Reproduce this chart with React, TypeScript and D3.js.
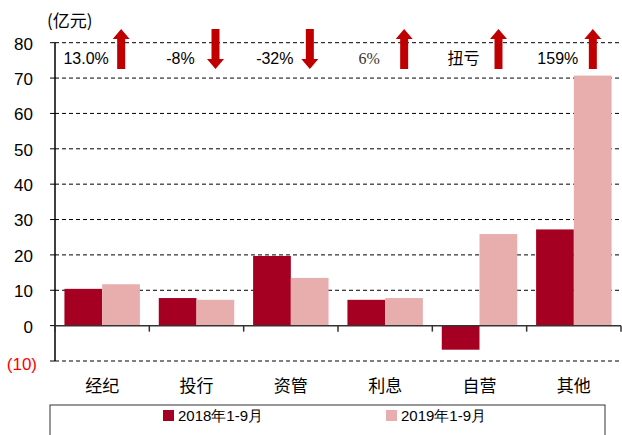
import React from "react";
import * as d3 from "d3";

const categories = ["经纪", "投行", "资管", "利息", "自营", "其他"];
const series2018 = [10.4, 7.8, 19.7, 7.3, -6.8, 27.2];
const series2019 = [11.7, 7.3, 13.5, 7.8, 25.9, 70.7];
const seriesNames = ["2018年1-9月", "2019年1-9月"];
const changeLabels = ["13.0%", "-8%", "-32%", "6%", "扭亏", "159%"];
const changeDirs = ["up", "down", "down", "up", "up", "up"];
const yTicks = [-10, 0, 10, 20, 30, 40, 50, 60, 70, 80];

const W = 622;
const H = 435;
const colors = ["#A50021", "#E8AEAE"];
const arrowColor = "#C00000";
const sans = "'Liberation Sans', Arial, sans-serif";
const cjk = "'Noto Sans CJK SC', sans-serif";

export default function App() {
  const y = d3.scaleLinear().domain([-10, 80]).range([361, 42.7]);
  const x = d3
    .scaleBand<string>()
    .domain(categories)
    .range([55, 621])
    .paddingInner(0.2)
    .paddingOuter(0.1);
  const step = x.step();
  const xs = d3.scaleBand<number>().domain([0, 1]).range([0, x.bandwidth()]);
  const y0 = y(0);

  const arrow = (cx: number, dir: string) => {
    const top = 29,
      bot = 69,
      sw = 4,
      hw = 8.5,
      hh = 10;
    let pts: [number, number][];
    if (dir === "up") {
      pts = [
        [cx, top],
        [cx + hw, top + hh],
        [cx + sw, top + hh],
        [cx + sw, bot],
        [cx - sw, bot],
        [cx - sw, top + hh],
        [cx - hw, top + hh],
      ];
    } else {
      pts = [
        [cx - sw, top],
        [cx + sw, top],
        [cx + sw, bot - hh],
        [cx + hw, bot - hh],
        [cx, bot],
        [cx - hw, bot - hh],
        [cx - sw, bot - hh],
      ];
    }
    return <polygon points={pts.map((p) => p.join(",")).join(" ")} fill={arrowColor} />;
  };

  return (
    <svg
      width={W}
      height={H}
      style={{ position: "absolute", left: 0, top: 0, background: "#fff" }}
    >
      {/* grid lines */}
      {yTicks
        .filter((t) => t !== 0)
        .map((t) => (
          <line
            key={"g" + t}
            x1={55}
            x2={621}
            y1={y(t)}
            y2={y(t)}
            stroke="#000"
            strokeWidth={1}
            strokeDasharray="4,3"
          />
        ))}
      {/* bars */}
      {categories.map((c, i) =>
        [series2018[i], series2019[i]].map((v, s) => (
          <rect
            key={c + s}
            x={(x(c) as number) + (xs(s) as number)}
            y={Math.min(y(v), y0)}
            width={xs.bandwidth()}
            height={Math.abs(y(v) - y0)}
            fill={colors[s]}
          />
        ))
      )}
      {/* y axis */}
      <line x1={55} x2={55} y1={y(80)} y2={y(-10)} stroke="#000" strokeWidth={1.5} />
      {yTicks.map((t) => (
        <g key={"t" + t}>
          <line x1={50} x2={55} y1={y(t)} y2={y(t)} stroke="#000" strokeWidth={1} />
          <text
            x={t < 0 ? 37 : 33}
            y={y(t) + (t < 0 ? 3 : 1)}
            dy="0.35em"
            textAnchor="end"
            fontFamily={sans}
            fontSize={17}
            fill={t < 0 ? "#FF0000" : "#000"}
          >
            {t < 0 ? `(${Math.abs(t)})` : t}
          </text>
        </g>
      ))}
      {/* x axis */}
      <line x1={55} x2={621} y1={y0} y2={y0} stroke="#333" strokeWidth={1.5} />
      {d3.range(categories.length + 1).map((k) => (
        <line
          key={"xt" + k}
          x1={55 + k * step}
          x2={55 + k * step}
          y1={y0}
          y2={y0 + 6}
          stroke="#333"
          strokeWidth={1.5}
        />
      ))}
      {categories.map((c) => (
        <text
          key={"c" + c}
          x={(x(c) as number) + x.bandwidth() / 2}
          y={386}
          dy="0.35em"
          textAnchor="middle"
          fontFamily={cjk}
          fontSize={17}
          fill="#000"
        >
          {c}
        </text>
      ))}
      {/* unit */}
      <text x={47} y={21} dy="0.35em" fontFamily={cjk} fontSize={17} fill="#000">
        (亿元)
      </text>
      {/* change annotations */}
      {categories.map((c, i) => {
        const cx = (x(c) as number) + x.bandwidth() / 2;
        const lab = changeLabels[i];
        const isCjk = /[\u4e00-\u9fff]/.test(lab);
        return (
          <g key={"a" + c}>
            <text
              x={cx - 16}
              y={58}
              dy="0.35em"
              textAnchor="middle"
              fontFamily={isCjk ? cjk : lab === "6%" ? "'Liberation Serif', serif" : sans}
              fontSize={16}
              fill={lab === "6%" ? "#333" : "#000"}
            >
              {lab}
            </text>
            {arrow(cx + 19, changeDirs[i])}
          </g>
        );
      })}
      {/* legend */}
      <rect x={50} y={405} width={555} height={40} fill="none" stroke="#333" strokeWidth={1} />
      {seriesNames.map((n, s) => (
        <g key={"l" + s}>
          <rect x={163 + s * 223} y={410} width={11} height={11} fill={colors[s]} />
          <text
            x={178 + s * 223}
            y={416}
            dy="0.35em"
            fontFamily={sans}
            fontSize={15}
            fill="#000"
          >
            {n}
          </text>
        </g>
      ))}
    </svg>
  );
}
